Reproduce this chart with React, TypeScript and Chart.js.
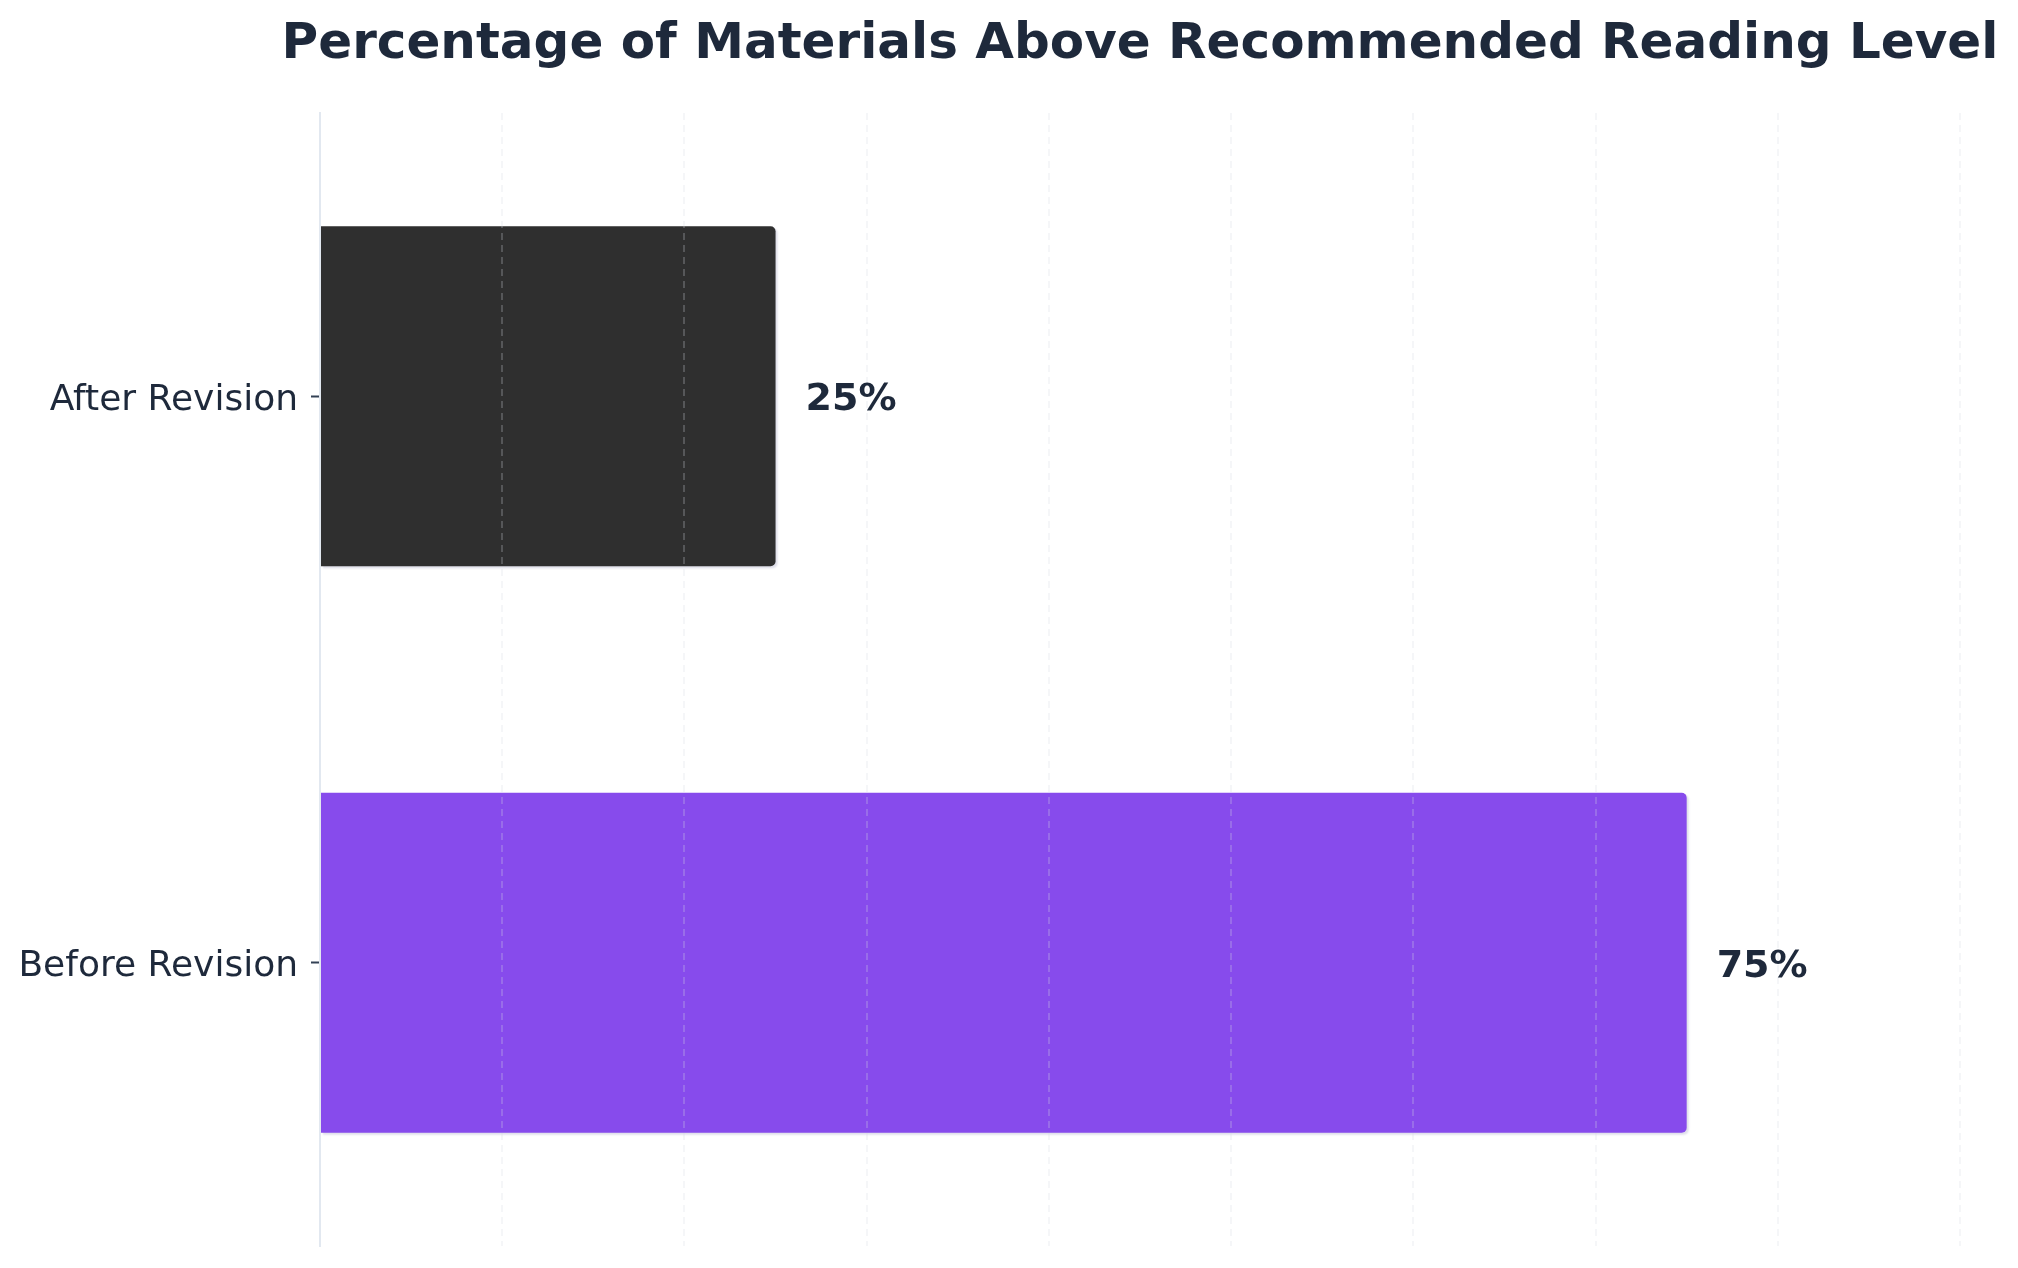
import React, { useEffect, useRef } from 'react';
import { Chart, registerables } from 'chart.js';

Chart.register(...registerables);

const TITLE = 'Percentage of Materials Above Recommended Reading Level';
const categories = ['After Revision', 'Before Revision'];
const percentages = [25, 75];
const barColors = ['#2f2f2f', '#874bec'];
const X_MAX = 90;
const X_STEP = 10;

const TEXT_COLOR = '#1e293b';
const FONT = '"DejaVu Sans", Verdana, sans-serif';

const titlePlugin = {
  id: 'centeredTitle',
  afterDraw(chart: any) {
    const { ctx, chartArea } = chart;
    ctx.save();
    ctx.font = `bold 50px ${FONT}`;
    ctx.fillStyle = TEXT_COLOR;
    ctx.textAlign = 'center';
    ctx.textBaseline = 'alphabetic';
    ctx.fillText(TITLE, (chartArea.left + chartArea.right) / 2, 58);
    ctx.restore();
  },
};

const barShadow = {
  id: 'barShadow',
  beforeDatasetsDraw(chart: any) {
    const ctx = chart.ctx;
    ctx.save();
    ctx.shadowColor = 'rgba(110, 110, 160, 0.22)';
    ctx.shadowOffsetX = 2;
    ctx.shadowOffsetY = 2;
    ctx.shadowBlur = 2;
  },
  afterDatasetsDraw(chart: any) {
    chart.ctx.restore();
  },
};

const valueLabels = {
  id: 'valueLabels',
  afterDraw(chart: any) {
    const { ctx } = chart;
    const meta = chart.getDatasetMeta(0);
    ctx.save();
    ctx.font = `bold 38px ${FONT}`;
    ctx.fillStyle = TEXT_COLOR;
    ctx.textAlign = 'left';
    ctx.textBaseline = 'middle';
    meta.data.forEach((bar: any, i: number) => {
      ctx.fillText(`${percentages[i]}%`, bar.x + 30, bar.y + 4);
    });
    ctx.restore();
  },
};

const App: React.FC = () => {
  const canvasRef = useRef<HTMLCanvasElement>(null);

  useEffect(() => {
    document.body.style.margin = '0';
    if (!canvasRef.current) return;
    const ctx = canvasRef.current.getContext('2d');
    if (!ctx) return;

    const chart = new Chart(ctx, {
      type: 'bar',
      data: {
        labels: categories,
        datasets: [
          {
            data: percentages,
            backgroundColor: barColors,
            borderWidth: 0,
            borderRadius: { topLeft: 0, bottomLeft: 0, topRight: 5, bottomRight: 5 },
            borderSkipped: false,
            barPercentage: 0.6,
            categoryPercentage: 1,
          },
        ],
      },
      options: {
        indexAxis: 'y',
        animation: false,
        responsive: true,
        maintainAspectRatio: false,
        devicePixelRatio: 1,
        layout: { padding: { top: 113, right: 58, bottom: 22, left: 0 } },
        plugins: {
          legend: { display: false },
          title: { display: false },
          tooltip: { enabled: false },
        },
        scales: {
          x: {
            min: 0,
            max: X_MAX,
            ticks: { display: false, stepSize: X_STEP },
            border: { display: false, dash: [7, 5] },
            grid: {
              z: 1,
              drawTicks: false,
              lineWidth: 2,
              color: (c: any) =>
                c.tick && c.tick.value === 0 ? 'rgba(0,0,0,0)' : 'rgba(212, 216, 226, 0.24)',
            },
            afterFit: (scale: any) => {
              scale.height = 0;
              scale.paddingLeft = 0;
              scale.paddingRight = 0;
            },
          },
          y: {
            ticks: {
              color: TEXT_COLOR,
              font: { family: FONT, size: 36 },
              padding: 13,
              labelOffset: 4,
            },
            border: { display: true, color: '#e2e8f0', width: 2 },
            grid: {
              offset: false,
              drawOnChartArea: false,
              drawTicks: true,
              tickLength: 9,
              tickColor: '#334155',
              tickWidth: 2,
            },
            afterFit: (scale: any) => {
              scale.width = 320;
              scale.paddingTop = 0;
              scale.paddingBottom = 0;
            },
          },
        },
      },
      plugins: [barShadow, valueLabels, titlePlugin],
    });

    return () => {
      chart.destroy();
    };
  }, []);

  return (
    <div style={{ width: '2018px', height: '1268px', position: 'relative', background: '#ffffff' }}>
      <canvas ref={canvasRef}></canvas>
    </div>
  );
};

export default App;
